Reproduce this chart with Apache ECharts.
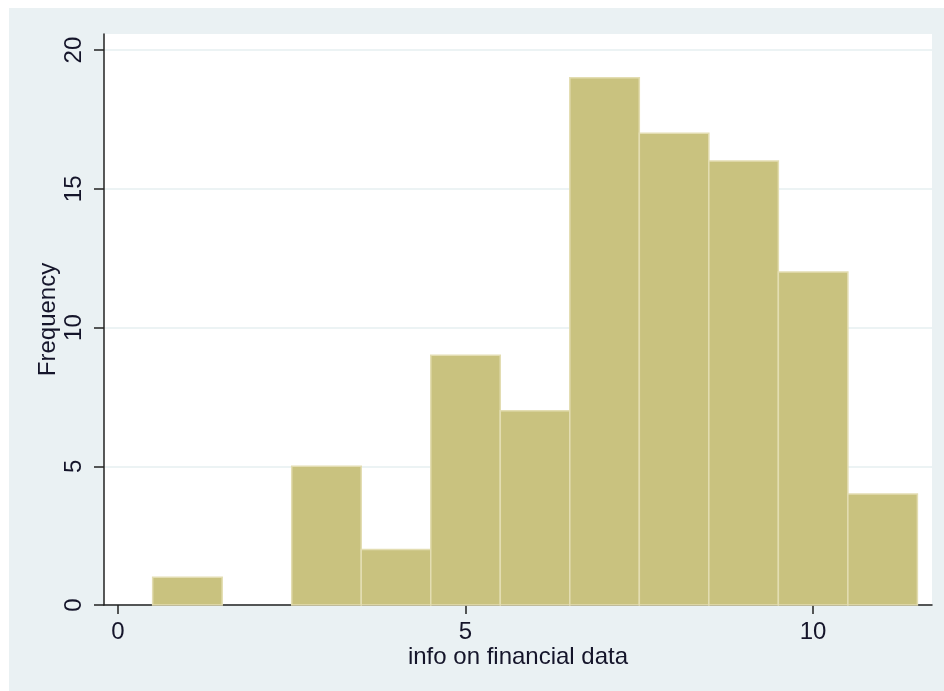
<!DOCTYPE html>
<html>
<head>
<meta charset="utf-8">
<script src="https://cdn.jsdelivr.net/npm/echarts@6/dist/echarts.min.js"></script>
<style>
html,body{margin:0;padding:0;background:#fff;width:944px;height:691px;overflow:hidden;}
#c{position:absolute;left:9px;top:8px;width:935px;height:683px;}
</style>
</head>
<body>
<div id="c"></div>
<script>
// Histogram data (bin width 1, bins centred on integers)
const binStarts = [0.5, 1.5, 2.5, 3.5, 4.5, 5.5, 6.5, 7.5, 8.5, 9.5, 10.5];
const binEnds   = [1.5, 2.5, 3.5, 4.5, 5.5, 6.5, 7.5, 8.5, 9.5, 10.5, 11.5];
const freqs     = [1, 0, 5, 2, 9, 7, 19, 17, 16, 12, 4];
const xTicks = [0, 5, 10];
const yTicks = [0, 5, 10, 15, 20];
const xTitle = 'info on financial data';
const yTitle = 'Frequency';

const data = binStarts.map((s, i) => [s, binEnds[i], freqs[i]]).filter(d => d[2] > 0);

const FONT = 'Liberation Sans, Arial, sans-serif';
const TXT = '#15152a';
const FS = 24;
const chart = echarts.init(document.getElementById('c'), null, {renderer: 'canvas'});
chart.setOption({
  backgroundColor: '#eaf1f3',
  animation: false,
  grid: {left: 95, top: 26, right: 12, bottom: 86, show: true, backgroundColor: '#ffffff', borderWidth: 0},
  xAxis: {
    type: 'value', min: -0.2, max: 11.71,
    name: xTitle, nameLocation: 'middle', nameGap: 40, nameMoveOverlap: false,
    nameTextStyle: {fontFamily: FONT, fontSize: FS, color: TXT},
    axisLine: {show: true, onZero: false, lineStyle: {color: '#222', width: 1.5}},
    axisTick: {show: true, length: 9, customValues: xTicks, lineStyle: {color: '#222', width: 1.5}},
    axisLabel: {customValues: xTicks, margin: 15, fontFamily: FONT, fontSize: FS, color: TXT},
    splitLine: {show: false}
  },
  yAxis: {
    type: 'value', min: 0, max: 20.58,
    name: yTitle, nameLocation: 'middle', nameGap: 44, nameMoveOverlap: false,
    nameTextStyle: {fontFamily: FONT, fontSize: FS, color: TXT},
    axisLine: {show: true, onZero: false, lineStyle: {color: '#222', width: 1.5}},
    axisTick: {show: true, length: 10, customValues: yTicks, lineStyle: {color: '#222', width: 1.5}},
    axisLabel: {customValues: yTicks, rotate: 90, margin: 18, fontFamily: FONT, fontSize: FS, color: TXT},
    splitLine: {show: true, lineStyle: {color: '#e6eff1', width: 1.5}}
  },
  series: [{
    type: 'custom',
    data: data,
    encode: {x: [0, 1], y: 2},
    renderItem: function (params, api) {
      const p0 = api.coord([api.value(0), 0]);
      const p1 = api.coord([api.value(1), api.value(2)]);
      return {
        type: 'rect',
        shape: {x: p0[0], y: p1[1], width: p1[0] - p0[0], height: p0[1] - p1[1]},
        style: {fill: '#c9c27f', stroke: '#e3ddb2', lineWidth: 1.5}
      };
    }
  }]
});
</script>
</body>
</html>
